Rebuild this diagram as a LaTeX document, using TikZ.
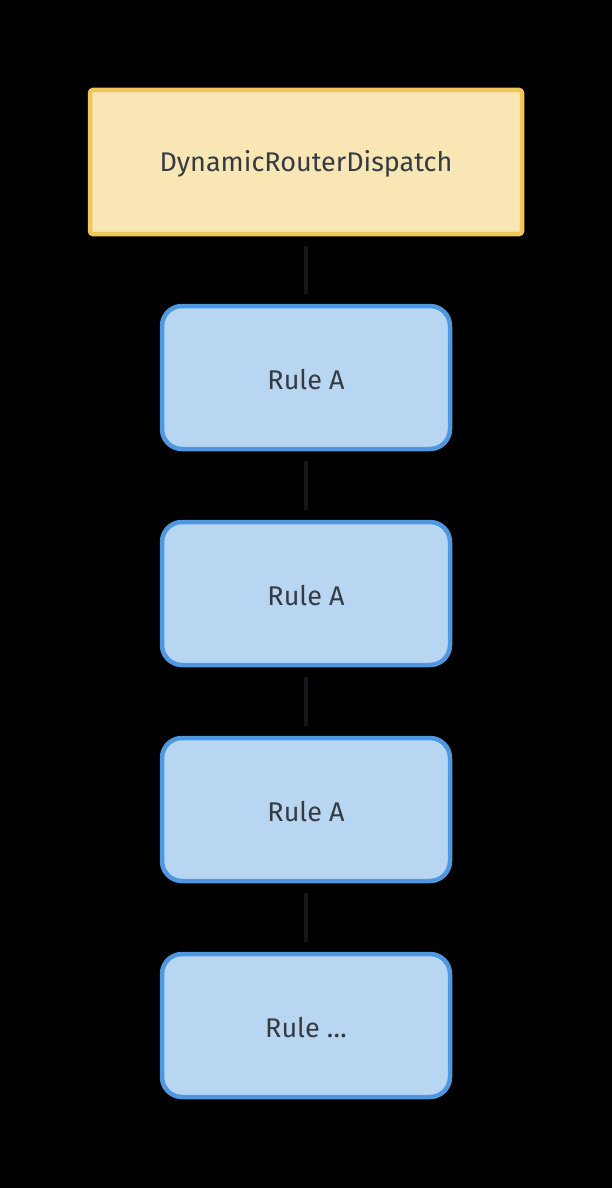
\documentclass[tikz,border=0pt]{standalone}
\usepackage{fontspec}
\setmainfont{Fira Sans}
\usepackage{tikz}
\usetikzlibrary{calc}

\definecolor{dispatchfill}{HTML}{F8E6B4}
\definecolor{dispatchline}{HTML}{F0C75A}
\definecolor{rulefill}{HTML}{B8D6F2}
\definecolor{ruleline}{HTML}{4F97DE}
\definecolor{labeltext}{HTML}{363A42}
\definecolor{linkline}{HTML}{16161E}
\newcommand{\lowlabel}[1]{\raisebox{-2pt}[\height][\depth]{#1}}

\begin{document}
\begin{tikzpicture}[x=1pt,y=-1pt,
		dispatch/.style={draw=dispatchline, fill=dispatchfill, line width=4.5pt,
			rounded corners=3pt, minimum width=432pt, minimum height=144pt,
			inner sep=0pt, text=labeltext, font=\fontsize{27}{32}\selectfont},
		rulebox/.style={draw=ruleline, fill=rulefill, line width=4.5pt,
			rounded corners=20pt, minimum width=288pt, minimum height=143pt,
			inner sep=0pt, text=labeltext, font=\fontsize{27}{32}\selectfont},
		link/.style={draw=linkline, line width=4pt, shorten <=10pt, shorten >=10pt}]
		% background
		\fill[black] (0,0) rectangle (612,1188);
		\useasboundingbox (0,0) rectangle (612,1188);
%		dispatcher
		\node[dispatch] (dispatch) at (306,162) {\lowlabel{DynamicRouterDispatch}};
%		rules
		\node[rulebox] (rule1) at (306,377.5) {\lowlabel{Rule A}};
		\node[rulebox] (rule2) at (306,593.5) {\lowlabel{Rule A}};
		\node[rulebox] (rule3) at (306,809.5) {\lowlabel{Rule A}};
		\node[rulebox] (rule4) at (306,1025.5) {\lowlabel{Rule \dots}};
%		links
		\draw[link] (dispatch.south) -- (rule1.north);
		\foreach \i/\j in {1/2,2/3,3/4}
			\draw[link] (rule\i.south) -- (rule\j.north);
\end{tikzpicture}
\end{document}
